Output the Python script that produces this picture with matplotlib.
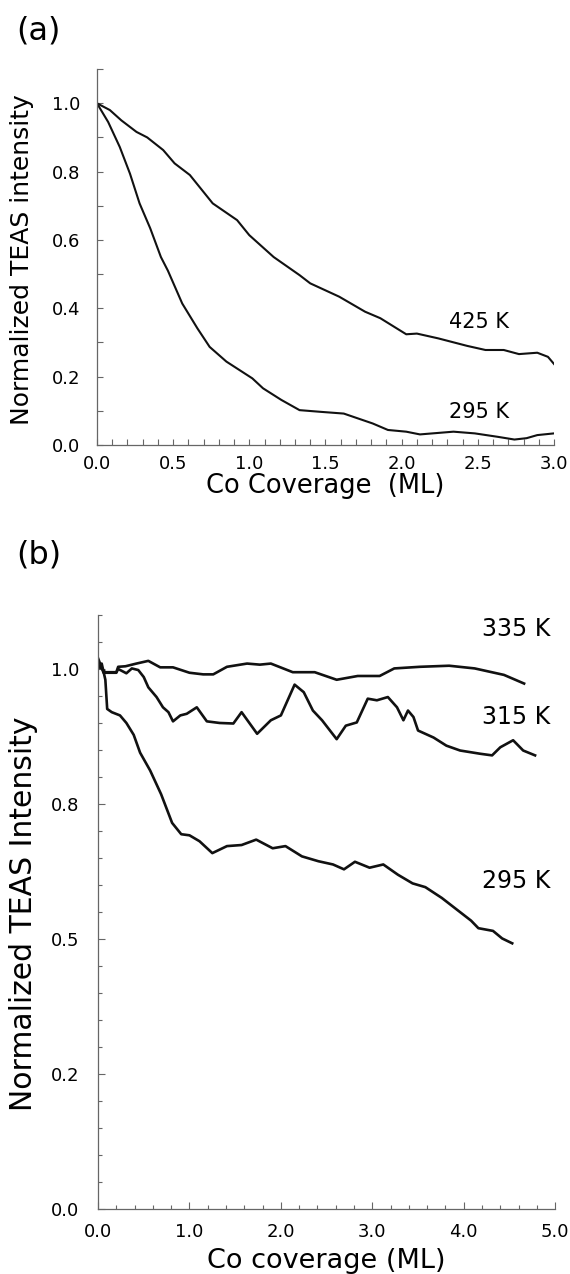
"""
TEAS intensity vs Co coverage, two panels
"""
import matplotlib
matplotlib.use("Agg")
import matplotlib.pyplot as plt
from matplotlib.ticker import MultipleLocator, FormatStrFormatter

plt.rcParams['font.family'] = ['DejaVu Sans']

# ---- panel (a) data ----
a_x_425 = [0, 0.085, 0.16, 0.26, 0.33, 0.435, 0.51, 0.61, 0.76, 0.92, 1.0, 1.16, 1.33, 1.40,
           1.59, 1.76, 1.86, 2.03, 2.10, 2.24, 2.43, 2.55, 2.67, 2.77, 2.89, 2.96, 3.0]
a_y_425 = [1.0, 0.98, 0.95, 0.916, 0.90, 0.863, 0.824, 0.79, 0.707, 0.658, 0.614, 0.55, 0.497, 0.473,
           0.434, 0.39, 0.371, 0.324, 0.326, 0.312, 0.29, 0.278, 0.278, 0.266, 0.27, 0.258, 0.237]

a_x_295 = [0, 0.074, 0.15, 0.217, 0.28, 0.35, 0.42, 0.466, 0.56, 0.66, 0.74, 0.85, 1.02, 1.09, 1.21,
           1.33, 1.47, 1.62, 1.81, 1.91, 2.03, 2.12, 2.34, 2.48, 2.63, 2.74, 2.82, 2.89, 3.0]
a_y_295 = [1.0, 0.945, 0.872, 0.794, 0.707, 0.634, 0.55, 0.51, 0.414, 0.341, 0.287, 0.244, 0.195, 0.166, 0.132,
           0.102, 0.097, 0.092, 0.063, 0.044, 0.039, 0.031, 0.039, 0.034, 0.024, 0.016, 0.02, 0.029, 0.034]

# ---- panel (b) data ----
b_x_335 = [0, 0.08, 0.2, 0.22, 0.3, 0.42, 0.55, 0.68, 0.82, 1.0, 1.15, 1.26, 1.41, 1.63, 1.77,
           1.89, 2.13, 2.37, 2.61, 2.84, 3.08, 3.24, 3.52, 3.84, 4.12, 4.44, 4.66]
b_y_335 = [1.007, 0.994, 0.994, 1.004, 1.005, 1.01, 1.015, 1.003, 1.003, 0.993, 0.99, 0.99, 1.004, 1.01, 1.008,
           1.01, 0.994, 0.994, 0.98, 0.987, 0.987, 1.001, 1.004, 1.006, 1.001, 0.989, 0.973]

b_x_315 = [0, 0.06, 0.2, 0.22, 0.31, 0.37, 0.44, 0.5, 0.55, 0.64, 0.71, 0.77, 0.82, 0.90, 0.97, 1.08,
           1.19, 1.33, 1.48, 1.57, 1.74, 1.89, 2.0, 2.15, 2.25, 2.35, 2.45, 2.61, 2.71, 2.83, 2.95,
           3.05, 3.17, 3.27, 3.34, 3.39, 3.45, 3.50, 3.67, 3.81, 3.96, 4.07, 4.18, 4.31, 4.40, 4.54,
           4.65, 4.78]
b_y_315 = [1.02, 0.993, 0.993, 1.0, 0.992, 1.001, 0.998, 0.985, 0.966, 0.948, 0.929, 0.92, 0.903, 0.914, 0.917, 0.929,
           0.903, 0.90, 0.899, 0.92, 0.88, 0.905, 0.914, 0.971, 0.957, 0.923, 0.905, 0.87, 0.895, 0.901, 0.945,
           0.942, 0.948, 0.929, 0.905, 0.923, 0.911, 0.886, 0.873, 0.858, 0.849, 0.846, 0.843, 0.840, 0.855, 0.868,
           0.849, 0.84]

b_x_295 = [0, 0.04, 0.08, 0.1, 0.15, 0.24, 0.31, 0.39, 0.46, 0.57, 0.69, 0.81, 0.91, 1.0, 1.11, 1.25,
           1.41, 1.57, 1.73, 1.91, 2.05, 2.23, 2.41, 2.57, 2.69, 2.81, 2.97, 3.12, 3.28, 3.44, 3.58,
           3.76, 3.92, 4.08, 4.16, 4.32, 4.42, 4.53]
b_y_295 = [1.0, 1.01, 0.98, 0.926, 0.92, 0.914, 0.90, 0.878, 0.845, 0.812, 0.768, 0.715, 0.694, 0.692, 0.681, 0.659,
           0.672, 0.674, 0.684, 0.668, 0.672, 0.653, 0.644, 0.638, 0.629, 0.643, 0.632, 0.638, 0.619, 0.603, 0.596,
           0.576, 0.555, 0.534, 0.52, 0.515, 0.501, 0.492]

a_labels = [(2.31, 0.36, '425 K'), (2.31, 0.096, '295 K')]
b_labels = [(4.20, 1.074, '335 K'), (4.20, 0.911, '315 K'), (4.20, 0.607, '295 K')]

spine_col = '#666666'


def style_axes(ax, ypad, xpad):
    for side in ['top', 'right']:
        ax.spines[side].set_visible(False)
    for side in ['left', 'bottom']:
        ax.spines[side].set_color(spine_col)
        ax.spines[side].set_linewidth(0.9)
    ax.tick_params(which='both', direction='in', color=spine_col, width=0.8)
    ax.tick_params(axis='y', which='both', pad=ypad, labelsize=13)
    ax.tick_params(axis='x', which='both', pad=xpad, labelsize=13)


fig = plt.figure(figsize=(5.7, 12.74), dpi=100)

# panel (a)
ax1 = fig.add_axes([0.170, 0.6507, 0.802, 0.2951])
ax1.plot(a_x_425, a_y_425, color='#111111', lw=1.5)
ax1.plot(a_x_295, a_y_295, color='#111111', lw=1.5)
for x, y, t in a_labels:
    ax1.text(x, y, t, fontsize=15, ha='left', va='center')
ax1.set_xlim(0, 3.0)
ax1.set_ylim(0, 1.1)
ax1.xaxis.set_major_locator(MultipleLocator(0.5))
ax1.xaxis.set_minor_locator(MultipleLocator(0.1))
ax1.yaxis.set_major_locator(MultipleLocator(0.2))
ax1.yaxis.set_minor_locator(MultipleLocator(0.1))
ax1.xaxis.set_major_formatter(FormatStrFormatter('%.1f'))
ax1.yaxis.set_major_formatter(FormatStrFormatter('%.1f'))
style_axes(ax1, 12, 7)
ax1.tick_params(which='major', length=4)
ax1.tick_params(which='minor', length=4)
ax1.set_xlabel('Co Coverage  (ML)', fontsize=18.5, va='baseline')
ax1.xaxis.set_label_coords(0.5, -0.128)
ax1.set_ylabel('Normalized TEAS intensity', fontsize=18, va='center')
ax1.yaxis.set_label_coords(-0.164, 0.492)

# panel (b)
ax2 = fig.add_axes([0.172, 0.0510, 0.802, 0.4663])
ax2.plot(b_x_335, b_y_335, color='#111111', lw=1.9)
ax2.plot(b_x_315, b_y_315, color='#111111', lw=1.9)
ax2.plot(b_x_295, b_y_295, color='#111111', lw=1.9)
for x, y, t in b_labels:
    ax2.text(x, y, t, fontsize=17, ha='left', va='center')
ax2.set_xlim(0, 5.0)
ax2.set_ylim(0, 1.1)
ax2.xaxis.set_major_locator(MultipleLocator(1.0))
ax2.xaxis.set_minor_locator(MultipleLocator(0.2))
ax2.yaxis.set_major_locator(MultipleLocator(0.25))
ax2.yaxis.set_minor_locator(MultipleLocator(0.05))
ax2.xaxis.set_major_formatter(FormatStrFormatter('%.1f'))
ax2.yaxis.set_major_formatter(FormatStrFormatter('%.1f'))
style_axes(ax2, 13.5, 10)
ax2.tick_params(which='major', length=5)
ax2.tick_params(which='minor', length=3)
ax2.set_xlabel('Co coverage (ML)', fontsize=19.5, va='baseline')
ax2.xaxis.set_label_coords(0.5, -0.1)
ax2.set_ylabel('Normalized TEAS Intensity', fontsize=21.5, va='center')
ax2.yaxis.set_label_coords(-0.162, 0.497)

fig.text(38 / 570, 1 - 31 / 1274, '(a)', fontsize=23, ha='center', va='center')
fig.text(39 / 570, 1 - 555 / 1274, '(b)', fontsize=23, ha='center', va='center')

fig.savefig('out.png', dpi=100)
